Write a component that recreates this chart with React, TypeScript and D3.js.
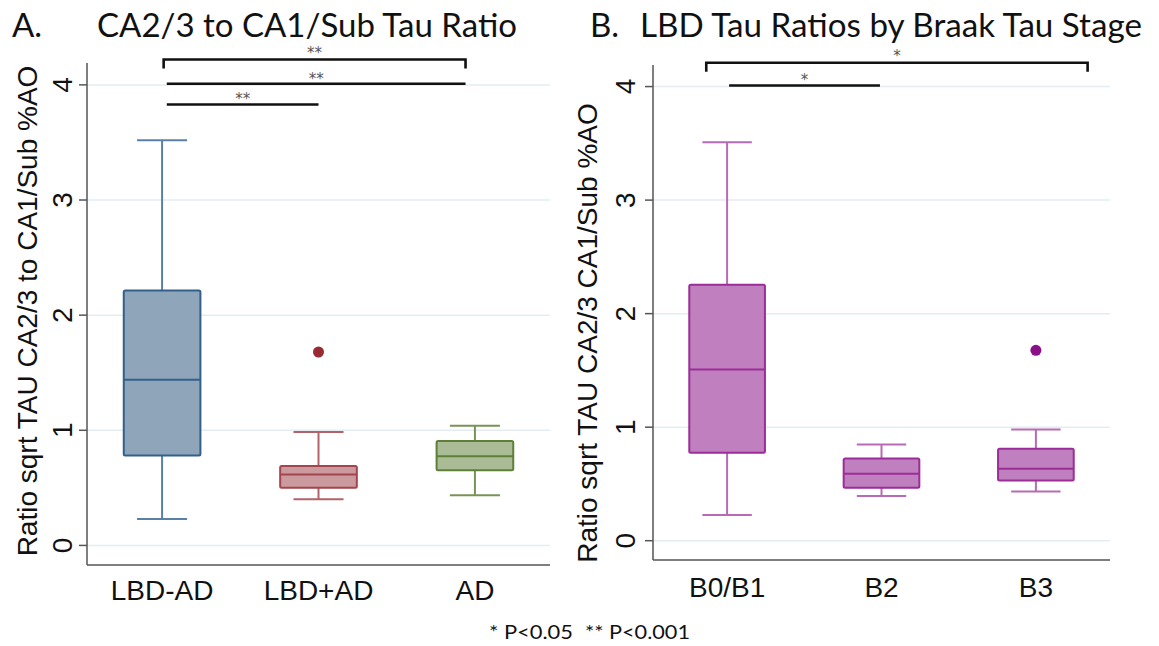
import * as d3 from "d3"

// ---- data ----
const categoriesA = ["LBD-AD", "LBD+AD", "AD"]
const whiskerLowA = [0.23, 0.4, 0.435]
const q1A = [0.78, 0.5, 0.652]
const medianA = [1.44, 0.617, 0.774]
const q3A = [2.215, 0.69, 0.907]
const whiskerHighA = [3.52, 0.985, 1.04]
const outliersA = [{ group: "LBD+AD", value: 1.68 }]

const categoriesB = ["B0/B1", "B2", "B3"]
const whiskerLowB = [0.226, 0.393, 0.434]
const q1B = [0.774, 0.466, 0.531]
const medianB = [1.507, 0.589, 0.633]
const q3B = [2.255, 0.725, 0.81]
const whiskerHighB = [3.51, 0.848, 0.98]
const outliersB = [{ group: "B3", value: 1.677 }]

const yTicks = [0, 1, 2, 3, 4]

// significance bars: from/to in category-index units, y in data units
const bracketsA = [
  { from: 0.01, to: 1.94, y: 4.22, label: "**", hook: true },
  { from: 0.03, to: 1.94, y: 4.01, label: "**", hook: false },
  { from: 0.03, to: 1.0, y: 3.83, label: "**", hook: false },
]
const bracketsB = [
  { from: -0.135, to: 2.335, y: 4.21, label: "*", hook: true },
  { from: 0.013, to: 0.99, y: 4.01, label: "*", hook: false },
]

interface Palette {
  fill: string
  stroke: string
  whisker: string
  dot: string
}

const paletteA: Palette[] = [
  { fill: "#8ea5ba", stroke: "#33608b", whisker: "#5b80a5", dot: "#33608b" },
  { fill: "#cb9a9e", stroke: "#a4444d", whisker: "#b3626a", dot: "#982a33" },
  { fill: "#aabc95", stroke: "#5e7f38", whisker: "#789356", dot: "#5e7f38" },
]
const purple: Palette = { fill: "#c07fbe", stroke: "#9b2d99", whisker: "#b76ab5", dot: "#8b0f89" }
const paletteB: Palette[] = [purple, purple, purple]

interface PanelProps {
  left: number
  right: number
  top: number
  bottom: number
  categories: string[]
  lo: number[]
  q1: number[]
  med: number[]
  q3: number[]
  hi: number[]
  outliers: { group: string; value: number }[]
  brackets: { from: number; to: number; y: number; label: string; hook: boolean }[]
  palette: Palette[]
  yTitle: string
  tickLabelGap: number
  yTitleX: number
  yTitleY: number
  xLabelGap: number
}

function Panel(p: PanelProps) {
  const y = d3.scaleLinear().domain([-0.17, 4.19]).range([p.bottom, p.top])
  const x = d3.scalePoint<string>().domain(p.categories).range([p.left, p.right]).padding(0.48)
  const step = x.step()
  const boxW = step * 0.49
  const capW = step * 0.32
  const xi = d3
    .scaleLinear()
    .domain([0, p.categories.length - 1])
    .range([x(p.categories[0])!, x(p.categories[p.categories.length - 1])!])

  return (
    <g>
      {/* grid */}
      {yTicks.map((t) => (
        <line key={"g" + t} x1={p.left} x2={p.right} y1={y(t)} y2={y(t)} stroke="#e3edf1" strokeWidth={1.5} />
      ))}
      {/* axes */}
      <line x1={p.left} x2={p.left} y1={p.top} y2={p.bottom} stroke="#555" strokeWidth={1.5} />
      <line x1={p.left} x2={p.right} y1={p.bottom} y2={p.bottom} stroke="#555" strokeWidth={1.5} />
      {yTicks.map((t) => (
        <g key={"t" + t}>
          <line x1={p.left - 8} x2={p.left} y1={y(t)} y2={y(t)} stroke="#555" strokeWidth={1.5} />
          <text
            transform={`translate(${p.left - p.tickLabelGap},${y(t)}) rotate(-90)`}
            textAnchor="middle"
            fontSize={28}
            fill="#111"
          >
            {t}
          </text>
        </g>
      ))}
      <text
        transform={`translate(${p.yTitleX},${p.yTitleY}) rotate(-90)`}
        textAnchor="middle"
        fontSize={28}
        fill="#111"
      >
        {p.yTitle}
      </text>
      {p.categories.map((c) => (
        <text key={"x" + c} x={x(c)} y={p.bottom + p.xLabelGap} textAnchor="middle" fontSize={28} fill="#111">
          {c}
        </text>
      ))}

      {/* boxes */}
      {p.categories.map((c, i) => {
        const cx = x(c)!
        const col = p.palette[i]
        return (
          <g key={"b" + c}>
            <line x1={cx} x2={cx} y1={y(p.hi[i])} y2={y(p.q3[i])} stroke={col.whisker} strokeWidth={2} />
            <line x1={cx} x2={cx} y1={y(p.q1[i])} y2={y(p.lo[i])} stroke={col.whisker} strokeWidth={2} />
            <line x1={cx - capW / 2} x2={cx + capW / 2} y1={y(p.hi[i])} y2={y(p.hi[i])} stroke={col.whisker} strokeWidth={2} />
            <line x1={cx - capW / 2} x2={cx + capW / 2} y1={y(p.lo[i])} y2={y(p.lo[i])} stroke={col.whisker} strokeWidth={2} />
            <rect
              x={cx - boxW / 2}
              y={y(p.q3[i])}
              width={boxW}
              height={y(p.q1[i]) - y(p.q3[i])}
              fill={col.fill}
              stroke={col.stroke}
              strokeWidth={2}
              rx={1.5}
            />
            <line x1={cx - boxW / 2} x2={cx + boxW / 2} y1={y(p.med[i])} y2={y(p.med[i])} stroke={col.stroke} strokeWidth={2} />
          </g>
        )
      })}
      {p.outliers.map((o, k) => (
        <circle
          key={"o" + k}
          cx={x(o.group)}
          cy={y(o.value)}
          r={5.5}
          fill={p.palette[p.categories.indexOf(o.group)].dot}
        />
      ))}

      {/* significance bars */}
      {p.brackets.map((b, k) => {
        const x0 = xi(b.from)
        const x1 = xi(b.to)
        const yy = y(b.y)
        const path = b.hook
          ? `M${x0},${yy + 9}V${yy}H${x1}V${yy + 9}`
          : `M${x0},${yy}H${x1}`
        return (
          <g key={"s" + k}>
            <path d={path} fill="none" stroke="#111" strokeWidth={2.6} />
            <text
              x={(x0 + x1) / 2}
              y={yy - (b.hook ? 2 : 0)}
              textAnchor="middle"
              fontSize={15}
              fill="#555"
              fontFamily="'DejaVu Sans', sans-serif"
            >
              {b.label}
            </text>
          </g>
        )
      })}
    </g>
  )
}

export default function App() {
  const W = 1159
  const H = 646
  const titleFont = "Lato, 'Open Sans', sans-serif"
  return (
    <svg
      width={W}
      height={H}
      style={{ display: "block", position: "absolute", left: 0, top: 0, background: "#fff" }}
      fontFamily="'Liberation Sans', Arial, sans-serif"
    >
      <rect width={W} height={H} fill="#fff" />
      <text x={12} y={37} fontSize={33} fontFamily={titleFont} fill="#111">
        A.
      </text>
      <text
        x={97}
        y={37}
        fontSize={33}
        fontFamily={titleFont}
        fill="#111"
        textLength={420}
        lengthAdjust="spacingAndGlyphs"
      >
        CA2/3 to CA1/Sub Tau Ratio
      </text>
      <text x={590} y={37} fontSize={33} fontFamily={titleFont} fill="#111">
        B.
      </text>
      <text
        x={640}
        y={37}
        fontSize={33}
        fontFamily={titleFont}
        fill="#111"
        textLength={502}
        lengthAdjust="spacingAndGlyphs"
      >
        LBD Tau Ratios by Braak Tau Stage
      </text>

      <Panel
        left={87}
        right={550}
        top={63}
        bottom={565}
        categories={categoriesA}
        lo={whiskerLowA}
        q1={q1A}
        med={medianA}
        q3={q3A}
        hi={whiskerHighA}
        outliers={outliersA}
        brackets={bracketsA}
        palette={paletteA}
        yTitle="Ratio sqrt TAU CA2/3 to CA1/Sub %AO"
        tickLabelGap={15}
        yTitleX={37}
        yTitleY={311}
        xLabelGap={35}
      />
      <Panel
        left={653}
        right={1110}
        top={65}
        bottom={560}
        categories={categoriesB}
        lo={whiskerLowB}
        q1={q1B}
        med={medianB}
        q3={q3B}
        hi={whiskerHighB}
        outliers={outliersB}
        brackets={bracketsB}
        palette={paletteB}
        yTitle="Ratio sqrt TAU CA2/3 CA1/Sub %AO"
        tickLabelGap={18}
        yTitleX={597}
        yTitleY={333}
        xLabelGap={37}
      />

      <text
        x={489}
        y={639}
        fontSize={19}
        fontFamily={titleFont}
        fill="#111"
        textLength={84}
        lengthAdjust="spacingAndGlyphs"
      >
        * P&lt;0.05
      </text>
      <text
        x={585}
        y={639}
        fontSize={19}
        fontFamily={titleFont}
        fill="#111"
        textLength={105}
        lengthAdjust="spacingAndGlyphs"
      >
        ** P&lt;0.001
      </text>
    </svg>
  )
}
